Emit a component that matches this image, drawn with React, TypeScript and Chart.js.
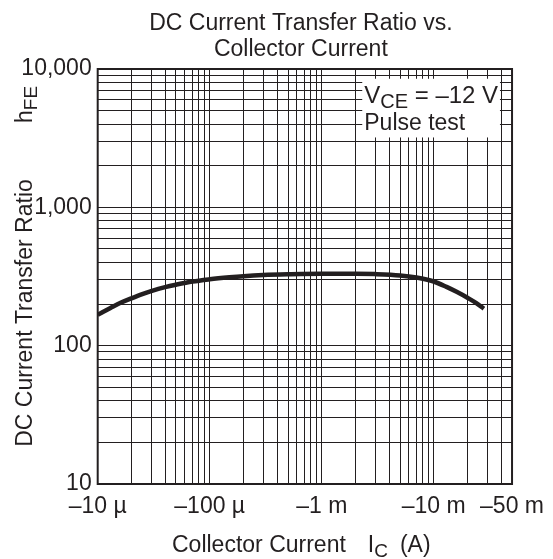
import { useEffect, useRef } from "react";
import { Chart, registerables } from "chart.js";

Chart.register(...registerables);

// Collector current magnitude (A) — axis shows negative values (PNP)
const currentA = [10e-6, 13e-6, 16e-6, 20e-6, 25e-6, 30e-6, 40e-6, 50e-6, 70e-6, 100e-6, 150e-6, 200e-6, 300e-6, 500e-6, 1e-3, 2e-3, 3e-3, 5e-3, 7e-3, 10e-3, 13e-3, 16e-3, 20e-3, 24e-3, 28e-3];
const hFE = [167, 187, 204, 220, 236, 248, 265, 276, 291, 302, 312, 318, 324, 328, 331, 331, 329, 322, 311, 291, 266, 245, 222, 203, 185];

const xMajorTicks = [1e-5, 1e-4, 1e-3, 1e-2, 5e-2];
const xTickLabels = ["–10 µ", "–100 µ", "–1 m", "–10 m", "–50 m"];
const yMajorTicks = [10, 100, 1000, 10000];
const yTickLabels = ["10", "100", "1,000", "10,000"];

const INK = "#231f20";
const FONT = '"Liberation Sans", Arial, Helvetica, sans-serif';
const FS = 23;

function logGrid(min: number, max: number): number[] {
  const out: number[] = [];
  let dec = Math.pow(10, Math.floor(Math.log10(min) + 1e-9));
  while (dec <= max * 1.0001) {
    for (let k = 1; k <= 9; k++) {
      const v = k * dec;
      if (v >= min * 0.9999 && v <= max * 1.0001) out.push(v);
    }
    dec *= 10;
  }
  return out;
}

function labelFor(v: number, majors: number[], labels: string[]): string {
  for (let i = 0; i < majors.length; i++) {
    if (Math.abs(v - majors[i]) / majors[i] < 1e-6) return labels[i];
  }
  return "";
}

function drawSub(ctx: CanvasRenderingContext2D, parts: [string, boolean][], x: number, y: number, size: number, subSize: number, subDrop: number) {
  let cx = x;
  for (const [t, sub] of parts) {
    ctx.font = `${sub ? subSize : size}px ${FONT}`;
    ctx.fillText(t, cx, sub ? y + subDrop : y);
    cx += ctx.measureText(t).width;
  }
  return cx;
}

const overlay = {
  id: "overlay",
  afterDraw(chart: any) {
    const { ctx, chartArea: a } = chart;
    const xs = chart.scales.x;
    const ys = chart.scales.y;
    ctx.save();
    // frame
    ctx.strokeStyle = INK;
    ctx.lineWidth = 2;
    ctx.strokeRect(a.left, a.top, a.right - a.left, a.bottom - a.top);

    // condition box
    const bx0 = xs.getPixelForValue(2.3e-3);
    const bx1 = xs.getPixelForValue(3.9e-2);
    const by0 = ys.getPixelForValue(8500);
    const by1 = ys.getPixelForValue(3200);
    ctx.fillStyle = "#fff";
    ctx.fillRect(bx0, by0, bx1 - bx0, by1 - by0);

    ctx.fillStyle = INK;
    ctx.textBaseline = "alphabetic";
    ctx.textAlign = "left";
    drawSub(ctx, [["V", false], ["CE", true], [" = –12 V", false]], bx0 + 2, by0 + 24, 24, 20, 5);
    ctx.font = `${FS}px ${FONT}`;
    ctx.fillText("Pulse test", bx0 + 2, by0 + 51);

    // title
    ctx.textAlign = "center";
    const cxT = (a.left + a.right) / 2 - 4;
    ctx.font = `${FS}px ${FONT}`;
    ctx.fillText("DC Current Transfer Ratio vs.", cxT, 30);
    ctx.fillText("Collector Current", cxT, 56);

    // x-axis title
    ctx.textAlign = "left";
    const x0 = 172;
    let cx = drawSub(ctx, [["Collector Current", false]], x0, 552, FS, 19, 5);
    cx = drawSub(ctx, [["I", false], ["C", true]], cx + 22, 552, FS, 19, 5);
    drawSub(ctx, [["(A)", false]], cx + 12, 552, FS, 19, 5);

    // y-axis title (rotated)
    ctx.save();
    ctx.translate(32, 0);
    ctx.rotate(-Math.PI / 2);
    ctx.textAlign = "center";
    ctx.font = `${FS}px ${FONT}`;
    ctx.fillText("DC Current Transfer Ratio", -313, 0);
    ctx.textAlign = "left";
    drawSub(ctx, [["h", false], ["FE", true]], -123, 0, FS, 19, 5);
    ctx.restore();

    ctx.restore();
  },
};

export default function App() {
  const ref = useRef<HTMLCanvasElement>(null);
  useEffect(() => {
    if (!ref.current) return;
    const chart = new Chart(ref.current, {
      type: "line",
      data: {
        datasets: [
          {
            data: currentA.map((c, i) => ({ x: c, y: hFE[i] })),
            borderColor: INK,
            borderWidth: 4.5,
            borderCapStyle: "butt",
            borderJoinStyle: "round",
            pointRadius: 0,
            cubicInterpolationMode: "monotone",
            fill: false,
          },
        ],
      },
      options: {
        animation: false,
        responsive: false,
        devicePixelRatio: 1,
        layout: { padding: { top: 69, right: 39, left: 0, bottom: 0 } },
        plugins: { legend: { display: false }, tooltip: { enabled: false }, title: { display: false } },
        scales: {
          x: {
            type: "logarithmic",
            min: 1e-5,
            max: 5e-2,
            afterBuildTicks: (s: any) => {
              s.ticks = logGrid(1e-5, 5e-2).map((v) => ({ value: v }));
            },
            afterFit: (s: any) => {
              s.height = 75;
            },
            grid: { color: INK, lineWidth: 1, drawTicks: false },
            border: { display: false },
            ticks: {
              autoSkip: false,
              maxRotation: 0,
              minRotation: 0,
              padding: 9,
              color: INK,
              font: { family: FONT, size: FS },
              callback: (v: any) => labelFor(Number(v), xMajorTicks, xTickLabels),
            },
          },
          y: {
            type: "logarithmic",
            min: 10,
            max: 10000,
            afterBuildTicks: (s: any) => {
              s.ticks = logGrid(10, 10000).map((v) => ({ value: v }));
            },
            afterFit: (s: any) => {
              s.width = 97.7;
            },
            grid: { color: INK, lineWidth: 1, drawTicks: false },
            border: { display: false },
            ticks: {
              autoSkip: false,
              padding: 6,
              color: INK,
              font: { family: FONT, size: FS },
              callback: (v: any) => labelFor(Number(v), yMajorTicks, yTickLabels),
            },
          },
        },
      },
      plugins: [overlay],
    } as any);
    return () => chart.destroy();
  }, []);
  return (
    <div style={{ position: "fixed", left: 0, top: 0, width: 553, height: 559, background: "#fff" }}>
      <canvas ref={ref} width={553} height={559} style={{ width: 553, height: 559, display: "block" }} />
    </div>
  );
}
